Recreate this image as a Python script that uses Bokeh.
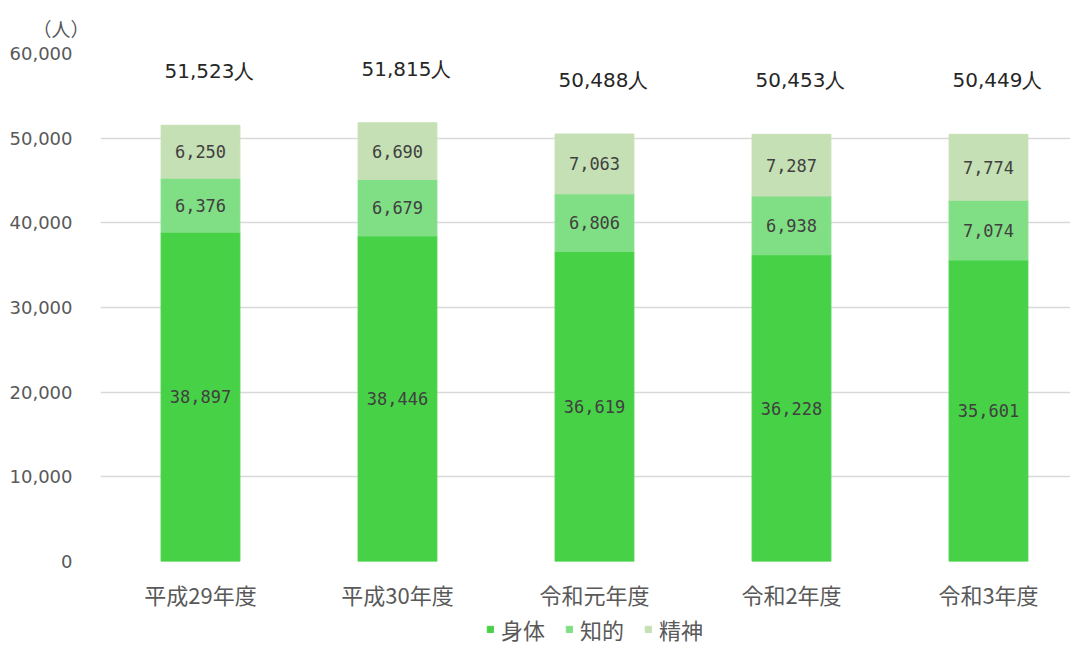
from bokeh.plotting import figure
from bokeh.layouts import column
from bokeh.models import (ColumnDataSource, Range1d, FixedTicker, NumeralTickFormatter,
                          Legend, LegendItem, Title)
from bokeh.core.properties import value
from bokeh.embed import file_html
from bokeh.resources import INLINE

# ---- data ----
categories = ["平成29年度", "平成30年度", "令和元年度", "令和2年度", "令和3年度"]
shintai = [38897, 38446, 36619, 36228, 35601]
chiteki = [6376, 6679, 6806, 6938, 7074]
seishin = [6250, 6690, 7063, 7287, 7774]
totals = [51523, 51815, 50488, 50453, 50449]
series_names = ["身体", "知的", "精神"]
y_ticks = [0, 10000, 20000, 30000, 40000, 50000, 60000]

CJK = "Noto Sans CJK JP"
NUM = "DejaVu Sans"
MONO = "DejaVu Sans Mono"
colors = ["#47D147", "#80DF85", "#C5E0B4"]

xs = list(range(len(categories)))
b1 = [0] * len(xs)
t1 = shintai
b2 = t1
t2 = [a + b for a, b in zip(t1, chiteki)]
b3 = t2
t3 = [a + b for a, b in zip(t2, seishin)]

src = ColumnDataSource(dict(
    x=xs, b1=b1, t1=t1, b2=b2, t2=t2, b3=b3, t3=t3,
    m1=[(a + b) / 2 for a, b in zip(b1, t1)],
    m2=[(a + b) / 2 for a, b in zip(b2, t2)],
    m3=[(a + b) / 2 for a, b in zip(b3, t3)],
    l1=[f"{v:,}" for v in shintai],
    l2=[f"{v:,}" for v in chiteki],
    l3=[f"{v:,}" for v in seishin],
    ty=[t + 6400 for t in totals],
    tl=[f"{t:,}人" for t in totals],
))

p = figure(width=1070, height=612, output_backend="svg", toolbar_location=None,
           x_range=Range1d(-0.5076, 4.4163), y_range=Range1d(0, 60000),
           min_border_left=100, min_border_right=0, min_border_top=52, min_border_bottom=48)
p.outline_line_color = None

r1 = p.vbar(x="x", bottom="b1", top="t1", width=0.40, color=colors[0], source=src)
r2 = p.vbar(x="x", bottom="b2", top="t2", width=0.40, color=colors[1], source=src)
r3 = p.vbar(x="x", bottom="b3", top="t3", width=0.40, color=colors[2], source=src)

for m, l in (("m1", "l1"), ("m2", "l2"), ("m3", "l3")):
    p.text(x="x", y=m, text=l, source=src, text_align="center", text_baseline="middle",
           text_font=value(MONO), text_font_size="17px", text_color="#404040")

p.text(x="x", y="ty", text="tl", source=src, text_align="center", text_baseline="middle",
       x_offset=9, text_font=value(NUM), text_font_size="20px", text_color="#262626")

# unit label
p.add_layout(Title(text="（人）", align="left", offset=-68, standoff=24,
                   text_font=CJK, text_font_size="19px", text_font_style="normal",
                   text_color="#595959"), "above")

# axes
p.yaxis.ticker = FixedTicker(ticks=y_ticks)
p.yaxis.formatter = NumeralTickFormatter(format="0,0")
p.yaxis.axis_line_color = None
p.yaxis.major_tick_line_color = None
p.yaxis.minor_tick_line_color = None
p.yaxis.major_label_standoff = 22
p.yaxis.major_label_text_font = NUM
p.yaxis.major_label_text_font_size = "18px"
p.yaxis.major_label_text_color = "#595959"

p.xaxis.ticker = FixedTicker(ticks=xs)
p.xaxis.major_label_overrides = {i: c for i, c in zip(xs, categories)}
p.xaxis.axis_line_color = None
p.xaxis.major_tick_line_color = None
p.xaxis.minor_tick_line_color = None
p.xaxis.major_label_standoff = 10
p.xaxis.major_label_text_font = CJK
p.xaxis.major_label_text_font_size = "22px"
p.xaxis.major_label_text_color = "#595959"

p.xgrid.grid_line_color = None
p.ygrid.ticker = FixedTicker(ticks=y_ticks)
p.ygrid.grid_line_color = "#D9D9D9"
p.ygrid.grid_line_width = 1.5

# legend strip (frame aligned with the main plot's frame)
lg = figure(width=1070, height=33, output_backend="svg", toolbar_location=None,
            x_axis_location=None, y_axis_location=None,
            x_range=Range1d(0, 1), y_range=Range1d(0, 1),
            min_border_left=0, min_border_right=0, min_border_top=0, min_border_bottom=0)
lg.outline_line_color = None
lg.grid.visible = False
# legend keys only (outside the visible range)
lrs = [lg.vbar(x=[0.5], bottom=[-3], top=[-2], width=0.1, color=c) for c in colors]
legend = Legend(items=[LegendItem(label=n, renderers=[r]) for n, r in zip(series_names, lrs)],
                orientation="horizontal", location=(386, 0),
                glyph_width=8, glyph_height=8, label_standoff=7, spacing=20,
                padding=0, margin=0, border_line_color=None, background_fill_alpha=0,
                label_text_font=CJK, label_text_font_size="22px", label_text_color="#595959")
lg.add_layout(legend, "center")

layout = column(p, lg, spacing=0)
open("out.html", "w").write(file_html(layout, INLINE))
